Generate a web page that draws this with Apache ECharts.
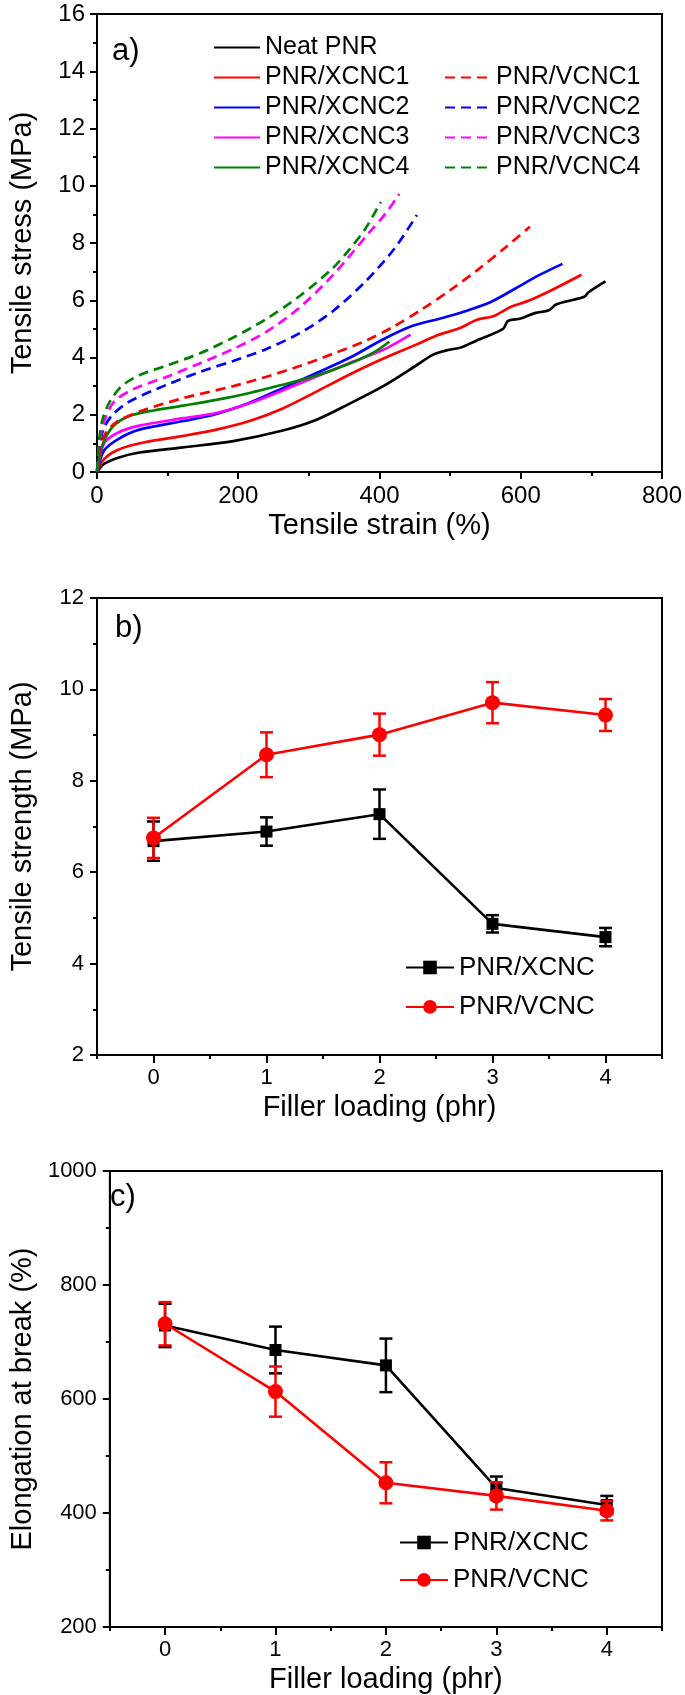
<!DOCTYPE html>
<html><head><meta charset="utf-8">
<script src="https://cdn.jsdelivr.net/npm/echarts@6/dist/echarts.min.js"></script>
<style>html,body{margin:0;padding:0;background:#fff}#c{width:685px;height:1695px}</style>
</head><body><div id="c"></div>
<script>
const FONT = "'Liberation Sans', Arial, Helvetica, sans-serif";

// ---------- Panel a: stress-strain curves [strain %, stress MPa] ----------
const neatPNR = [[0,0],[10,0.28],[30,0.50],[60,0.68],[122,0.86],[193,1.08],[263,1.45],[310,1.82],[357,2.38],[404,2.98],[452,3.72],[476,4.10],[495,4.25],[515,4.35],[525,4.45],[540,4.62],[575,5.00],[582,5.28],[600,5.36],[620,5.55],[640,5.65],[650,5.85],[675,6.02],[690,6.12],[696,6.28],[720,6.66]];
const xcnc1 = [[0,0],[10,0.45],[30,0.78],[66,1.03],[122,1.26],[169,1.48],[216,1.78],[263,2.22],[310,2.80],[357,3.40],[404,3.95],[452,4.45],[482,4.78],[513,5.02],[538,5.32],[562,5.45],[587,5.78],[611,5.98],[642,6.33],[686,6.89]];
const xcnc2 = [[0,0],[10,0.75],[30,1.15],[60,1.48],[122,1.78],[169,2.03],[216,2.42],[263,2.93],[310,3.45],[357,3.98],[404,4.62],[446,5.10],[489,5.38],[519,5.60],[556,5.92],[593,6.42],[624,6.85],[659,7.27]];
const xcnc3 = [[0,0],[10,1.00],[30,1.38],[60,1.62],[122,1.88],[169,2.06],[216,2.40],[263,2.85],[310,3.33],[357,3.80],[404,4.25],[444,4.80]];
const xcnc4 = [[0,0],[5,0.70],[12,1.20],[25,1.65],[45,1.95],[80,2.15],[122,2.32],[169,2.52],[216,2.76],[263,3.05],[310,3.36],[357,3.78],[392,4.18],[414,4.55]];
const vcnc1 = [[0,0],[5,0.85],[12,1.35],[28,1.75],[61,2.12],[122,2.58],[193,3.00],[240,3.33],[287,3.70],[333,4.12],[380,4.58],[420,5.08],[460,5.68],[500,6.35],[540,7.08],[580,7.88],[613,8.57]];
const vcnc2 = [[0,0],[4,1.00],[10,1.55],[22,2.00],[45,2.45],[99,3.05],[146,3.50],[193,3.88],[240,4.30],[287,4.85],[333,5.60],[380,6.65],[421,7.80],[453,8.98]];
const vcnc3 = [[0,0],[4,1.10],[10,1.75],[24,2.45],[52,2.90],[99,3.33],[146,3.80],[193,4.30],[240,4.90],[287,5.75],[333,6.85],[385,8.35],[409,9.04],[428,9.71]];
const vcnc4 = [[0,0],[3,1.10],[8,1.85],[18,2.45],[35,3.00],[60,3.38],[99,3.72],[146,4.15],[193,4.70],[240,5.35],[287,6.15],[333,7.10],[360,7.85],[380,8.50],[402,9.44]];

const curveNames = ['Neat PNR','PNR/XCNC1','PNR/XCNC2','PNR/XCNC3','PNR/XCNC4','PNR/VCNC1','PNR/VCNC2','PNR/VCNC3','PNR/VCNC4'];
const curveData = [neatPNR, xcnc1, xcnc2, xcnc3, xcnc4, vcnc1, vcnc2, vcnc3, vcnc4];
const curveColors = ['#000000','#ff0000','#0000ff','#ff00ff','#008000','#ff0000','#0000ff','#ff00ff','#008000'];
const curveDashed = [false,false,false,false,false,true,true,true,true];

// ---------- Panels b, c ----------
const fillerLoading = [0, 1, 2, 3, 4];
const strengthX = [6.68, 6.89, 7.27, 4.87, 4.58];
const strengthXErr = [0.43, 0.31, 0.54, 0.19, 0.20];
const strengthV = [6.75, 8.57, 9.01, 9.71, 9.44];
const strengthVErr = [0.44, 0.49, 0.46, 0.45, 0.35];
const elongX = [729, 686, 659, 444, 414];
const elongXErr = [38, 41, 47, 20, 16];
const elongV = [732, 613, 453, 430, 404];
const elongVErr = [38, 44, 36, 24, 17];

const axisLineStyle = { color: '#000', width: 2 };
const plainNum = v => String(v);
function valueX(grid, min, max, interval, name, opts) {
  return Object.assign({
    type: 'value', gridIndex: grid, min: min, max: max, interval: interval,
    position: 'bottom',
    axisLine: { show: true, onZero: false, lineStyle: axisLineStyle },
    axisTick: { show: true, inside: false, length: 7, lineStyle: { color: '#000', width: 2 } },
    minorTick: { show: true, splitNumber: 2, length: 4, lineStyle: { color: '#000', width: 2 } },
    splitLine: { show: false }, minorSplitLine: { show: false },
    axisLabel: { color: '#000', fontSize: 24, fontFamily: FONT, margin: 12, formatter: plainNum },
    name: name, nameLocation: 'middle', nameGap: 39,
    nameTextStyle: { color: '#000', fontSize: 29, fontFamily: FONT }
  }, opts || {});
}
function valueY(grid, min, max, interval, name, opts) {
  return Object.assign({
    type: 'value', gridIndex: grid, min: min, max: max, interval: interval,
    position: 'left',
    axisLine: { show: true, onZero: false, lineStyle: axisLineStyle },
    axisTick: { show: true, inside: false, length: 7, lineStyle: { color: '#000', width: 2 } },
    minorTick: { show: true, splitNumber: 2, length: 4, lineStyle: { color: '#000', width: 2 } },
    splitLine: { show: false }, minorSplitLine: { show: false },
    axisLabel: { color: '#000', fontSize: 24, fontFamily: FONT, margin: 12, formatter: plainNum },
    name: name, nameLocation: 'middle', nameGap: 60,
    nameTextStyle: { color: '#000', fontSize: 29, fontFamily: FONT }
  }, opts || {});
}
const halfLabel = v => (Math.abs(v - Math.round(v)) < 1e-6 ? String(Math.round(v)) : '');
function loadingAxis(grid) {
  return valueX(grid, -0.5, 4.5, 0.5, 'Filler loading (phr)', {
    axisTick: { show: true, length: 4, lineStyle: { color: '#000', width: 2 } },
    minorTick: { show: false },
    axisLabel: { color: '#000', fontSize: 22, fontFamily: FONT, margin: 12, formatter: halfLabel },
    nameGap: 38
  });
}
function majorLoadingTicks(grid) {
  return {
    type: 'value', gridIndex: grid, min: -0.5, max: 4.5, interval: 0.5, position: 'bottom', offset: 0,
    axisLine: { show: false }, axisLabel: { show: false }, splitLine: { show: false },
    axisTick: { show: true, length: 8, customValues: fillerLoading, lineStyle: { color: '#000', width: 2 } }
  };
}

function errRender(color) {
  return function (params, api) {
    const x = api.value(0), y = api.value(1), e = api.value(2);
    const top = api.coord([x, y + e]);
    const bot = api.coord([x, y - e]);
    const w = 6.5;
    const style = { stroke: color, lineWidth: 2.5, fill: null };
    return { type: 'group', children: [
      { type: 'line', shape: { x1: top[0], y1: top[1], x2: bot[0], y2: bot[1] }, style: style },
      { type: 'line', shape: { x1: top[0] - w, y1: top[1], x2: top[0] + w, y2: top[1] }, style: style },
      { type: 'line', shape: { x1: bot[0] - w, y1: bot[1], x2: bot[0] + w, y2: bot[1] }, style: style }
    ]};
  };
}
const pack = (vals, errs) => fillerLoading.map((x, i) => [x, vals[i], errs[i]]);

const series = [];
curveNames.forEach((n, i) => {
  series.push({
    type: 'line', name: n, xAxisIndex: 0, yAxisIndex: 0, data: curveData[i],
    symbol: 'none', showSymbol: false, smooth: 0.3,
    itemStyle: { color: curveColors[i] },
    lineStyle: { color: curveColors[i], width: 2.7, type: curveDashed[i] ? [10, 6] : 'solid' },
    z: curveDashed[i] ? 3 : 2
  });
});
function pointSeries(name, xi, yi, vals, errs, color, symbol, size, z) {
  series.push({
    type: 'line', name: name, xAxisIndex: xi, yAxisIndex: yi,
    data: fillerLoading.map((x, i) => [x, vals[i]]),
    symbol: symbol, symbolSize: size, showSymbol: true,
    itemStyle: { color: color }, lineStyle: { color: color, width: 2.6 }, z: z
  });
  series.push({
    type: 'custom', xAxisIndex: xi, yAxisIndex: yi, data: pack(vals, errs),
    encode: { x: 0, y: 1 }, renderItem: errRender(color), z: z
  });
}
pointSeries('PNR/XCNC', 1, 1, strengthX, strengthXErr, '#000000', 'rect', 12, 4);
pointSeries('PNR/VCNC', 1, 1, strengthV, strengthVErr, '#ff0000', 'circle', 15, 5);
pointSeries('PNR/XCNC', 2, 2, elongX, elongXErr, '#000000', 'rect', 12, 4);
pointSeries('PNR/VCNC', 2, 2, elongV, elongVErr, '#ff0000', 'circle', 15, 5);

const gridBase = { show: true, borderColor: '#000', borderWidth: 2, backgroundColor: 'transparent', containLabel: false };
const legendText = (fs, lh) => ({ color: '#000', fontSize: fs, fontFamily: FONT, lineHeight: lh });

const option = {
  animation: false,
  backgroundColor: '#fff',
  grid: [
    Object.assign({ left: 93, right: 23, top: 14, height: 458 }, gridBase),
    Object.assign({ left: 94, right: 23, top: 598, height: 457 }, gridBase),
    Object.assign({ left: 94, right: 23, top: 1171, height: 456 }, gridBase)
  ],
  xAxis: [
    valueX(0, 0, 800, 200, 'Tensile strain (%)'),
    loadingAxis(1),
    loadingAxis(2),
    majorLoadingTicks(1),
    majorLoadingTicks(2)
  ],
  yAxis: [
    valueY(0, 0, 16, 2, 'Tensile stress (MPa)'),
    valueY(1, 2, 12, 2, 'Tensile strength (MPa)', { axisLabel: { color: '#000', fontSize: 22, fontFamily: FONT, margin: 13, formatter: plainNum } }),
    valueY(2, 200, 1000, 200, 'Elongation at break (%)', { axisLabel: { color: '#000', fontSize: 22, fontFamily: FONT, margin: 13, formatter: plainNum } })
  ],
  legend: [
    { orient: 'vertical', left: 213, top: 32.5, padding: 0, itemWidth: 46, itemHeight: 30, itemGap: 0,
      itemStyle: { opacity: 0 }, textStyle: legendText(25, 30), selectedMode: false,
      data: ['Neat PNR','PNR/XCNC1','PNR/XCNC2','PNR/XCNC3','PNR/XCNC4'] },
    { orient: 'vertical', left: 444, top: 62.5, padding: 0, itemWidth: 46, itemHeight: 30, itemGap: 0,
      itemStyle: { opacity: 0 }, textStyle: legendText(25, 30), selectedMode: false,
      data: ['PNR/VCNC1','PNR/VCNC2','PNR/VCNC3','PNR/VCNC4'] },
    { orient: 'vertical', left: 405, top: 954.5, padding: 0, itemWidth: 48, itemHeight: 17, itemGap: 13.4,
      textStyle: legendText(26, 17), selectedMode: false, data: ['PNR/XCNC','PNR/VCNC'] },
    { orient: 'vertical', left: 399, top: 1529.5, padding: 0, itemWidth: 48, itemHeight: 17, itemGap: 11.4,
      textStyle: legendText(26, 17), selectedMode: false, data: ['PNR/XCNC','PNR/VCNC'] }
  ],
  graphic: [
    { type: 'text', left: 112, top: 36, style: { text: 'a)', font: '31px ' + FONT, fill: '#000' } },
    { type: 'text', left: 115, top: 613, style: { text: 'b)', font: '31px ' + FONT, fill: '#000' } },
    { type: 'text', left: 110, top: 1182, style: { text: 'c)', font: '31px ' + FONT, fill: '#000' } }
  ],
  series: series
};
const chart = echarts.init(document.getElementById('c'), null, { renderer: 'canvas' });
chart.setOption(option);
</script></body></html>
